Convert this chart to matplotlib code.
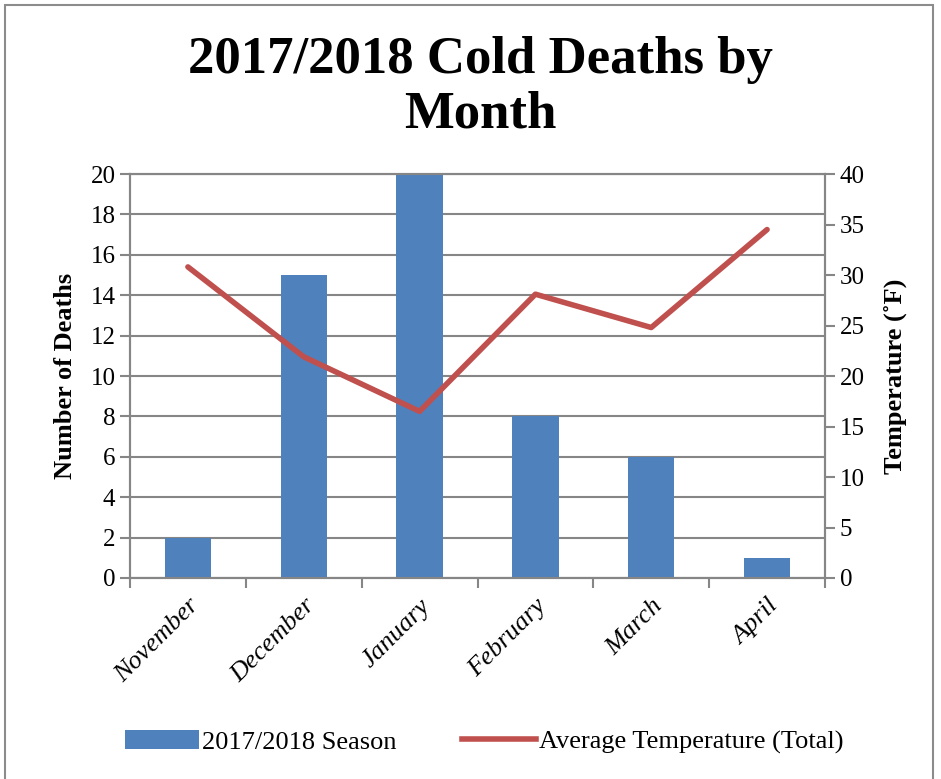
import matplotlib
matplotlib.use("Agg")
import matplotlib.pyplot as plt
from matplotlib.patches import Rectangle, Patch
from matplotlib.lines import Line2D
import numpy as np

months = ["November", "December", "January", "February", "March", "April"]
deaths = [2, 15, 20, 8, 6, 1]
avg_temp = [30.8, 21.9, 16.5, 28.1, 24.8, 34.5]

plt.rcParams['font.family'] = ['Liberation Serif', 'DejaVu Serif']

BLUE = "#4F81BD"
RED = "#C0504D"
GRID = "#868686"

fig = plt.figure(figsize=(9.41, 7.79), dpi=100)
fig.patches.append(Rectangle((5/941, -0.01), (933-5)/941, 1 - 5/779 + 0.01,
                             transform=fig.transFigure, fill=False,
                             edgecolor="#8c8c8c", linewidth=1.5))

ax = fig.add_axes([130/941, 1 - 578/779, (825-130)/941, (578-174)/779])
x = np.arange(len(months))
ax.bar(x, deaths, width=0.4, color=BLUE, zorder=2)
ax.set_xlim(-0.5, len(months) - 0.5)
ax.set_ylim(0, 20)
ax.set_yticks(range(0, 21, 2))
ax.yaxis.grid(True, color=GRID, linewidth=1.5, zorder=0)
ax.set_axisbelow(True)
ax.set_xticks(np.arange(-0.5, len(months), 1.0))
ax.set_xticklabels([])
ax.set_xticks(x, minor=True)
ax.set_xticklabels(months, minor=True, rotation=45, ha="right", va="top",
                   rotation_mode="anchor", fontstyle="italic", fontsize=19)
ax.tick_params(axis="x", which="minor", length=0, pad=12)
ax.tick_params(axis="x", which="major", length=7, color=GRID, width=1.5)
ax.tick_params(axis="y", length=7, color=GRID, width=1.5, labelsize=18)
for s in ax.spines.values():
    s.set_color(GRID)
    s.set_linewidth(1.5)
ax.set_ylabel("Number of Deaths", fontsize=19, fontweight="bold", labelpad=10)

ax2 = ax.twinx()
ax2.plot(x, avg_temp, color=RED, linewidth=4, solid_capstyle="round", zorder=3)
ax2.set_ylim(0, 40)
ax2.set_yticks(range(0, 41, 5))
ax2.tick_params(axis="y", length=7, color=GRID, width=1.5, labelsize=18)
for s in ax2.spines.values():
    s.set_color(GRID)
    s.set_linewidth(1.5)
ax2.set_ylabel("Temperature (˚F)", fontsize=19, fontweight="bold", labelpad=14)

fig.text(480/941, 1 - 60/779, "2017/2018 Cold Deaths by", ha="center", va="center",
         fontsize=38, fontweight="bold")
fig.text(480/941, 1 - 114/779, "Month", ha="center", va="center",
         fontsize=38, fontweight="bold")

handles = [Patch(facecolor=BLUE), Line2D([0], [0], color=RED, linewidth=4)]
fig.legend(handles, ["2017/2018 Season", "Average Temperature (Total)"],
           loc="center", bbox_to_anchor=(484/941, 1 - 742/779), ncol=2,
           frameon=False, fontsize=19, handlelength=2.8, handletextpad=0.1,
           columnspacing=2.5)

fig.savefig("out.png", dpi=100)
